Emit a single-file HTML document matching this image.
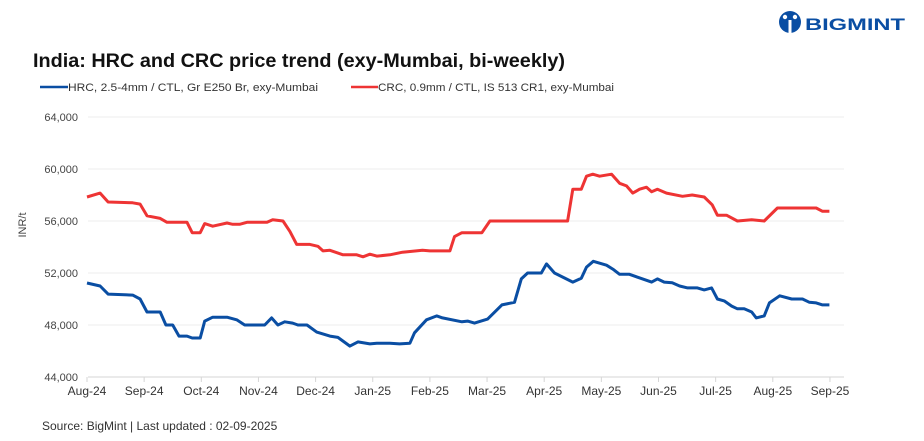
<!DOCTYPE html>
<html><head><meta charset="utf-8"><style>
body{margin:0;background:#fff;font-family:"Liberation Sans",sans-serif;}
#wrap{position:relative;width:924px;height:441px;overflow:hidden;}
</style></head><body>
<div id="wrap">
<svg id="chart" width="924" height="441"></svg>
</div>
<script>
const months=["Aug-24","Sep-24","Oct-24","Nov-24","Dec-24","Jan-25","Feb-25","Mar-25","Apr-25","May-25","Jun-25","Jul-25","Aug-25","Sep-25"];
const yTicks=[44000,48000,52000,56000,60000,64000];
const crcT=[0,0.23,0.37,0.8,0.93,1.05,1.28,1.4,1.75,1.84,1.98,2.06,2.2,2.45,2.55,2.67,2.8,3.15,3.25,3.43,3.55,3.67,3.9,4.04,4.13,4.25,4.48,4.72,4.83,4.95,5.07,5.3,5.52,5.87,6,6.35,6.43,6.56,6.91,7.05,8.41,8.5,8.65,8.74,8.85,8.97,9.18,9.32,9.44,9.55,9.67,9.79,9.88,9.98,10.14,10.42,10.59,10.8,10.94,11.03,11.19,11.38,11.63,11.85,12.08,12.76,12.87,12.99];
const crcV=[57850,58150,57460,57400,57300,56400,56200,55900,55900,55100,55100,55800,55600,55850,55750,55750,55900,55900,56100,56000,55200,54200,54200,54050,53700,53750,53400,53400,53250,53450,53300,53400,53600,53750,53700,53700,54800,55100,55100,56000,56000,58450,58450,59450,59600,59450,59600,58900,58700,58150,58450,58600,58250,58450,58150,57900,58000,57850,57250,56450,56450,56000,56100,56000,57000,57000,56750,56750];
const hrcT=[0,0.23,0.37,0.8,0.93,1.05,1.28,1.38,1.5,1.61,1.75,1.84,1.98,2.06,2.2,2.45,2.62,2.76,3.11,3.23,3.34,3.46,3.6,3.69,3.85,4.02,4.25,4.39,4.6,4.74,4.95,5.07,5.3,5.47,5.65,5.73,5.94,6.12,6.22,6.56,6.66,6.78,7.01,7.26,7.48,7.6,7.71,7.95,8.04,8.18,8.5,8.65,8.74,8.86,9.09,9.2,9.32,9.49,9.62,9.88,9.98,10.1,10.24,10.37,10.51,10.68,10.8,10.93,11.03,11.15,11.28,11.38,11.5,11.63,11.71,11.85,11.94,12.12,12.33,12.52,12.64,12.76,12.87,12.99];
const hrcV=[51230,51000,50380,50300,50000,49000,49000,48000,48000,47150,47150,47000,47000,48300,48600,48600,48400,48000,48000,48550,48000,48250,48150,48000,48000,47450,47150,47050,46380,46700,46550,46600,46600,46550,46600,47400,48400,48700,48550,48250,48300,48150,48450,49550,49750,51550,52000,52000,52700,52000,51300,51600,52450,52900,52600,52300,51900,51900,51700,51300,51550,51300,51250,51000,50850,50850,50700,50850,50000,49850,49450,49250,49250,49000,48550,48700,49700,50250,50000,50000,49750,49700,49550,49550];

const NS="http://www.w3.org/2000/svg";
const svg=document.getElementById('chart');
const X0=87,DX=57.15,Y0=377,PY=13/1000;
function xs(t){return X0+t*DX;}
function ys(v){return Y0-(v-44000)*PY;}
function mk(tag,attrs,parent){const e=document.createElementNS(NS,tag);for(const k in attrs)e.setAttribute(k,attrs[k]);(parent||svg).appendChild(e);return e;}
function txt(s,attrs){const e=mk('text',attrs);e.textContent=s;return e;}

let t=txt('India: HRC and CRC price trend (exy-Mumbai, bi-weekly)',{x:33,y:67,'font-size':19,'font-weight':'bold',fill:'#111','textLength':532,'lengthAdjust':'spacingAndGlyphs'});



let g=mk('g',{});


mk('circle',{cx:790,cy:22,r:11,fill:'#0a4ea3'},g);
mk('circle',{cx:785,cy:17,r:2.2,fill:'#fff'},g);
mk('circle',{cx:795,cy:17,r:2.2,fill:'#fff'},g);
mk('rect',{x:788.5,y:20,width:3,height:13,fill:'#fff'},g);
let lt=mk('text',{x:805,y:30,'font-size':17,'font-weight':'bold',fill:'#0a4ea3',textLength:100,lengthAdjust:'spacingAndGlyphs'},g);lt.textContent='BIGMINT';

let lg1=mk('g',{});


mk('line',{x1:40,y1:87,x2:68,y2:87,stroke:'#0a4ea3','stroke-width':2.5},lg1);
let l1=mk('text',{x:68,y:91,'font-size':11,fill:'#333',textLength:250,lengthAdjust:'spacingAndGlyphs'},lg1);l1.textContent='HRC, 2.5-4mm / CTL, Gr E250 Br, exy-Mumbai';
let lg2=mk('g',{});


mk('line',{x1:351,y1:87,x2:378,y2:87,stroke:'#ee3434','stroke-width':2.5},lg2);
let l2=mk('text',{x:378,y:91,'font-size':11,fill:'#333',textLength:236,lengthAdjust:'spacingAndGlyphs'},lg2);l2.textContent='CRC, 0.9mm / CTL, IS 513 CR1, exy-Mumbai';

yTicks.forEach(v=>{
  const gl=mk('line',{x1:88,x2:844,y1:ys(v),y2:ys(v),stroke:v===44000?'#d6d6d6':'#ececec','stroke-width':1});
  
  
  const tl=txt(v.toLocaleString('en-US'),{x:78,y:ys(v)+4,'font-size':11,fill:'#444','text-anchor':'end'});
  
  
});
let yt=txt('INR/t',{x:0,y:0,'font-size':11,fill:'#444','text-anchor':'middle',transform:'translate(26,225) rotate(-90)'});



months.forEach((m,i)=>{
  const tk=mk('line',{x1:xs(i),x2:xs(i),y1:377,y2:382,stroke:'#d6d6d6'});
  
  
  const xl=txt(m,{x:xs(i),y:395,'font-size':12,fill:'#333','text-anchor':'middle'});
  
  
});

function line(T,V,col,name){
  const d=T.map((tt,i)=>(i?'L':'M')+xs(tt).toFixed(1)+','+ys(V[i]).toFixed(1)).join('');
  const p=mk('path',{d:d,fill:'none',stroke:col,'stroke-width':3,'stroke-linejoin':'round'});
  
  
}
line(crcT,crcV,'#ee3434','crc-line');
line(hrcT,hrcV,'#0a4ea3','hrc-line');

let src=txt('Source: BigMint | Last updated : 02-09-2025',{x:42,y:430,'font-size':12,fill:'#333'});


</script>
</body></html>
